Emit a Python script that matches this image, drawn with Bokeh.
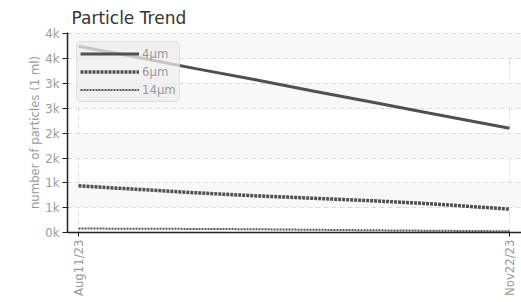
from datetime import datetime, timedelta
from bokeh.plotting import figure
from bokeh.models import (FixedTicker, DatetimeTickFormatter, CustomJSTickFormatter,
                          Range1d, ColumnDataSource, Legend, LegendItem)
from bokeh.embed import file_html
from bokeh.resources import INLINE

# ---- data ----
dates = ["2023-08-11", "2023-08-25", "2023-09-08", "2023-09-22",
         "2023-10-06", "2023-10-20", "2023-11-03", "2023-11-22"]
p4 = [3750, 3530, 3300, 3080, 2850, 2630, 2400, 2100]
p6 = [940, 870, 800, 740, 690, 640, 580, 470]
p14 = [80, 76, 72, 66, 55, 45, 36, 25]
series_labels = ["4µm", "6µm", "14µm"]
y_ticks = [0, 500, 1000, 1500, 2000, 2500, 3000, 3500, 4000]
title_text = "Particle Trend"
y_label = "number of particles (1 ml)"

FONT = "'DejaVu Sans Condensed', 'Liberation Sans', sans-serif"
GRAY = "#9a9a9a"

xd = [datetime.strptime(d, "%Y-%m-%d") for d in dates]
src = ColumnDataSource(dict(x=xd, p4=p4, p6=p6, p14=p14))

p = figure(width=521, height=302, x_axis_type="datetime",
           output_backend="svg", toolbar_location=None,
           x_range=Range1d(xd[0] - timedelta(days=2.63), xd[-1] + timedelta(days=2.87)),
           y_range=Range1d(0, 4028))
p.min_border_left = 67
p.min_border_right = 0
p.min_border_bottom = 70
p.min_border_top = 0
p.outline_line_color = None
p.background_fill_color = "white"
p.border_fill_color = "white"

p.title.text = title_text
p.title.text_font = "DejaVu Sans"
p.title.text_font_size = "17px"
p.title.text_font_style = "normal"
p.title.text_color = "#333333"
p.title.offset = 4
p.title.standoff = 10

# axes
ts = [int(xd[0].timestamp() * 1000), int(xd[-1].timestamp() * 1000)]
p.xaxis.ticker = FixedTicker(ticks=ts)
p.xaxis.formatter = DatetimeTickFormatter(days="%b%d/%y", months="%b%d/%y",
                                          years="%b%d/%y", hours="%b%d/%y")
p.xaxis.major_label_orientation = 1.5708
p.xaxis.minor_tick_line_color = None
p.xaxis.major_tick_in = 0
p.xaxis.major_tick_out = 4
p.xaxis.major_label_standoff = 3

p.yaxis.ticker = FixedTicker(ticks=y_ticks)
p.yaxis.formatter = CustomJSTickFormatter(code="return Math.round(tick/1000) + 'k';")
p.yaxis.minor_tick_line_color = None
p.yaxis.major_tick_in = 1
p.yaxis.major_tick_out = 5
p.yaxis.major_label_standoff = 3
p.yaxis.axis_label = y_label
p.yaxis.axis_label_standoff = 0

for ax in (p.xaxis, p.yaxis):
    ax.axis_line_color = "#222222"
    ax.axis_line_width = 1.5
    ax.major_tick_line_color = "#222222"
    ax.major_label_text_font = FONT
    ax.major_label_text_font_size = "13px"
    ax.major_label_text_color = GRAY
    ax.axis_label_text_font = FONT
    ax.axis_label_text_font_size = "13px"
    ax.axis_label_text_font_style = "normal"
    ax.axis_label_text_color = GRAY

p.ygrid.grid_line_color = "#dddddd"
p.ygrid.grid_line_dash = "5 3"
p.ygrid.band_fill_color = "#f8f8f8"
p.ygrid.band_fill_alpha = 1.0
p.xgrid.grid_line_color = "#dddddd"
p.xgrid.grid_line_dash = "5 3"

r4 = p.line("x", "p4", source=src, line_color="#505050", line_width=3)
r6 = p.line("x", "p6", source=src, line_color="#505050", line_width=3.5, line_dash="3 1")
r14 = p.line("x", "p14", source=src, line_color="#555555", line_width=2, line_dash="2 1")

legend = Legend(items=[LegendItem(label=series_labels[0], renderers=[r4]),
                       LegendItem(label=series_labels[1], renderers=[r6]),
                       LegendItem(label=series_labels[2], renderers=[r14])],
                location="top_left")
legend.margin = 9
legend.padding = 3
legend.spacing = 1
legend.glyph_width = 59
legend.glyph_height = 17
legend.label_height = 17
legend.label_standoff = 3
legend.label_text_font = FONT
legend.label_text_font_size = "13px"
legend.label_text_color = GRAY
legend.background_fill_color = "#eeeeee"
legend.background_fill_alpha = 0.75
legend.border_line_color = "#cccccc"
legend.border_line_width = 1
legend.border_radius = 5
p.add_layout(legend)

open("out.html", "w").write(file_html(p, INLINE))
